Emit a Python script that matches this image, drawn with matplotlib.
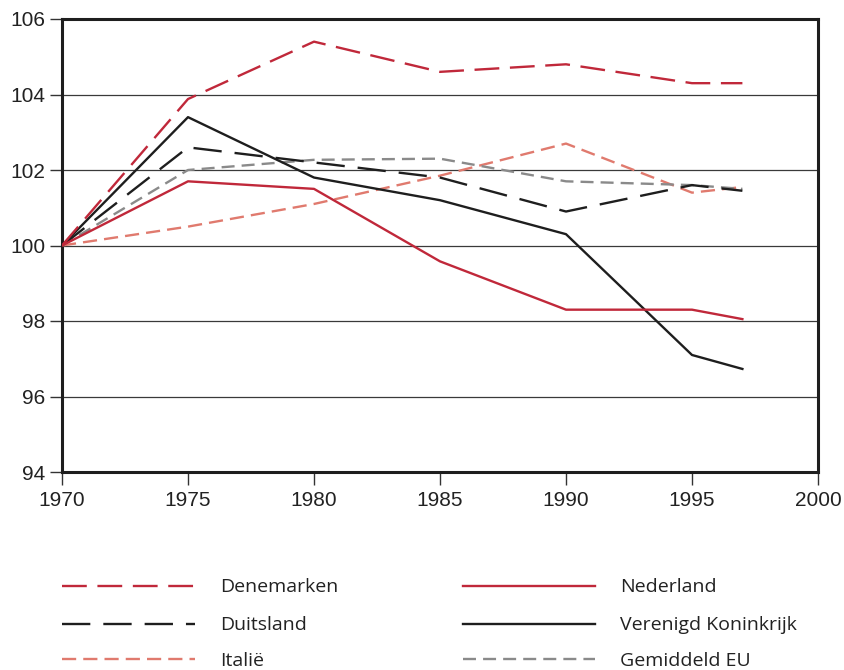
import matplotlib
matplotlib.use("Agg")
import matplotlib.pyplot as plt
from matplotlib.lines import Line2D

years = [1970, 1975, 1980, 1985, 1990, 1995, 1997]
denemarken = [100, 103.88, 105.4, 104.6, 104.8, 104.3, 104.3]
nederland = [100, 101.7, 101.5, 99.58, 98.3, 98.3, 98.05]
duitsland = [100, 102.6, 102.2, 101.8, 100.9, 101.6, 101.45]
vk = [100, 103.4, 101.8, 101.2, 100.3, 97.1, 96.73]
italie = [100, 100.5, 101.1, 101.85, 102.7, 101.4, 101.55]
eu = [100, 102.0, 102.27, 102.3, 101.7, 101.6, 101.5]

xticks = [1970, 1975, 1980, 1985, 1990, 1995, 2000]
yticks = [94, 96, 98, 100, 102, 104, 106]

RED = "#C0283A"
BLACK = "#1E1E1E"
LRED = "#E07A6E"
GRAY = "#8A8A8A"
LW = 1.7

series = [
    ("Denemarken", denemarken, RED, (0, (10.5, 4.5))),
    ("Nederland", nederland, RED, "-"),
    ("Duitsland", duitsland, BLACK, (0, (12, 5.5))),
    ("Verenigd Koninkrijk", vk, BLACK, "-"),
    ("Italië", italie, LRED, (0, (6, 3))),
    ("Gemiddeld EU", eu, GRAY, (0, (5.5, 3))),
]

plt.rcParams['font.family'] = ['Liberation Sans', 'DejaVu Sans']
fig = plt.figure(figsize=(8.44, 6.70), dpi=100)
ax = fig.add_axes([62/844, 1-472/670, 756/844, 453/670])

for y in [96, 98, 100, 102, 104]:
    ax.axhline(y, color="#3a3a3a", lw=0.9, zorder=1)

draw_order = [4, 5, 2, 3, 1, 0]
for i in draw_order:
    name, vals, col, ls = series[i]
    ax.plot(years, vals, color=col, lw=LW, linestyle=ls, zorder=3)

ax.set_xlim(1970, 2000)
ax.set_ylim(94, 106)
ax.set_xticks(xticks)
ax.set_yticks(yticks)
ax.tick_params(axis='both', labelsize=15, length=9, width=1.0, color="#333333", labelcolor="#222222")
ax.tick_params(axis='y', pad=3)
ax.tick_params(axis='x', pad=5)
for s in ax.spines.values():
    s.set_linewidth(2.2)
    s.set_color("#1E1E1E")

# legend
legend_font = ['Open Sans', 'Liberation Sans', 'DejaVu Sans']
rows_y = [586, 624, 659]
cols = [(62, 195, 220), (463, 595, 620)]
legend_layout = [[0, 2, 4], [1, 3, 5]]
for c, idxs in enumerate(legend_layout):
    x0, x1, xt = cols[c]
    for r, i in enumerate(idxs):
        name, vals, col, ls = series[i]
        yy = 1 - rows_y[r]/670
        fig.add_artist(Line2D([x0/844, x1/844], [yy, yy], color=col, lw=LW, linestyle=ls))
        fig.text(xt/844, yy - 1.5/670, name, fontsize=14, family=legend_font, color="#222222",
                 va='center', ha='left')

fig.savefig("out.png", dpi=100)
